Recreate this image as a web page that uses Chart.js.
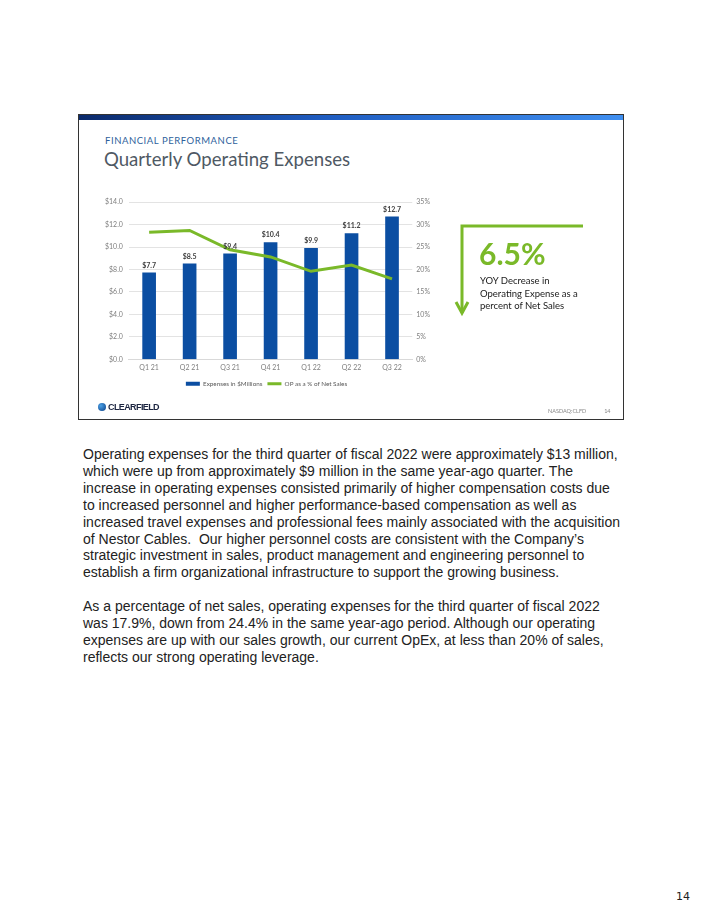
<!DOCTYPE html>
<html>
<head>
<meta charset="utf-8">
<script src="https://cdn.jsdelivr.net/npm/chart.js@4/dist/chart.umd.min.js"></script>
<style>
  html, body { margin: 0; padding: 0; background: #fff; }
  body { width: 704px; height: 911px; position: relative; overflow: hidden; }
  .slide { position: absolute; left: 78px; top: 114px; width: 546px; height: 306px; border: 1.5px solid #333; box-sizing: border-box; background: #fff; }
  .topbar { position: absolute; left: 0; top: 0; right: 0; height: 5px; background: linear-gradient(90deg, #0b2a6b 0%, #1f5cc0 45%, #3f8ff0 100%); }
  .kicker { position: absolute; left: 26px; top: 20px; font-family: Lato, sans-serif; font-size: 9.5px; letter-spacing: 0.55px; color: #2f5f9c; }
  .title { position: absolute; left: 25px; top: 33px; font-family: Lato, sans-serif; font-size: 18.6px; color: #4f5964; }
  #wrap { position: absolute; left: 20px; top: 77px; width: 335px; height: 205px; }
  .big { position: absolute; left: 400px; top: 120px; font-family: Lato, sans-serif; font-weight: bold; font-size: 30px; color: #7ab929; }
  .note { position: absolute; left: 401px; top: 160px; font-family: Lato, sans-serif; font-size: 9.5px; line-height: 12.5px; color: #1a1a1a; }
  .logo { position: absolute; left: 19px; top: 287px; font-family: "Liberation Sans", Arial, sans-serif; font-weight: bold; font-size: 9px; letter-spacing: -0.6px; color: #1c2540; }
  .logo i { display: inline-block; width: 8px; height: 8px; border-radius: 50%; background: radial-gradient(circle at 35% 35%, #4aa0e6, #0a3f86); vertical-align: -1px; margin-right: 2px; }
  .foot { position: absolute; left: 469px; top: 293px; font-family: Lato, sans-serif; font-size: 5.5px; color: #888; }
  .foot span { margin-left: 18px; }
  .para { position: absolute; left: 83px; top: 446px; font-family: "Liberation Sans", Arial, sans-serif; font-size: 14px; line-height: 16.9px; color: #222; white-space: nowrap; }
  .pnum { position: absolute; left: 676px; top: 890px; font-family: "DejaVu Sans", sans-serif; font-size: 11px; color: #222; }
</style>
</head>
<body>
<div class="slide">
  <div class="topbar"></div>
  <div class="kicker">FINANCIAL PERFORMANCE</div>
  <div class="title">Quarterly Operating Expenses</div>
  <div id="wrap"><canvas id="chartOpex"></canvas></div>
  <svg style="position:absolute;left:0;top:0" width="546" height="306">
    <path d="M504 111 H383 V198" fill="none" stroke="#7ab929" stroke-width="3"/>
    <path d="M377 187 L383 198 L389 187" fill="none" stroke="#7ab929" stroke-width="3"/>
  </svg>
  <div class="big">6.5%</div>
  <div class="note">YOY Decrease in<br>Operating Expense as a<br>percent of Net Sales</div>
  <div class="logo"><i></i>CLEARFIELD</div>
  <div class="foot">NASDAQ:CLFD<span>14</span></div>
</div>

<div class="para">Operating expenses for the third quarter of fiscal 2022 were approximately $13 million,<br>which were up from approximately $9 million in the same year-ago quarter. The<br>increase in operating expenses consisted primarily of higher compensation costs due<br>to increased personnel and higher performance-based compensation as well as<br>increased travel expenses and professional fees mainly associated with the acquisition<br>of Nestor Cables.&nbsp; Our higher personnel costs are consistent with the Company’s<br>strategic investment in sales, product management and engineering personnel to<br>establish a firm organizational infrastructure to support the growing business.<br><br>As a percentage of net sales, operating expenses for the third quarter of fiscal 2022<br>was 17.9%, down from 24.4% in the same year-ago period. Although our operating<br>expenses are up with our sales growth, our current OpEx, at less than 20% of sales,<br>reflects our strong operating leverage.</div>
<div class="pnum">14</div>

<script>
const trimestres = ['Q1 21', 'Q2 21', 'Q3 21', 'Q4 21', 'Q1 22', 'Q2 22', 'Q3 22'];
const gastosMillones = [7.7, 8.5, 9.4, 10.4, 9.9, 11.2, 12.7];
const opPorcentaje = [28.3, 28.7, 24.4, 22.8, 19.6, 21.0, 17.9];
const ticksDolares = [0, 2, 4, 6, 8, 10, 12, 14];
const ticksPorcentaje = [0, 5, 10, 15, 20, 25, 30, 35];

const azul = '#0b4ea2';
const verde = '#7ab929';
const gris = '#7f7f7f';

// etiquetas $x.x encima de cada barra
const etiquetasBarras = {
  id: 'etiquetasBarras',
  afterDatasetsDraw(chart) {
    const ctx = chart.ctx;
    const idx = chart.data.datasets.findIndex(ds => ds.type === 'bar');
    const meta = chart.getDatasetMeta(idx);
    ctx.save();
    ctx.font = 'bold 7px Lato';
    ctx.fillStyle = '#404040';
    ctx.textAlign = 'center';
    ctx.textBaseline = 'bottom';
    meta.data.forEach((bar, i) => {
      ctx.fillText('$' + gastosMillones[i].toFixed(1), bar.x, bar.y - 4);
    });
    ctx.restore();
  }
};

const ctxOpex = document.getElementById('chartOpex').getContext('2d');
new Chart(ctxOpex, {
  data: {
    labels: trimestres,
    datasets: [{
      type: 'line',
      label: 'OP as a % of Net Sales',
      data: opPorcentaje,
      yAxisID: 'y1',
      borderColor: verde,
      backgroundColor: verde,
      borderWidth: 3,
      pointRadius: 0,
      tension: 0,
      order: 0
    }, {
      type: 'bar',
      label: 'Expenses in $Millions',
      data: gastosMillones,
      yAxisID: 'y',
      backgroundColor: azul,
      barThickness: 13,
      order: 1
    }]
  },
  options: {
    responsive: true,
    maintainAspectRatio: false,
    animation: false,
    layout: { padding: { top: 2, right: 0, left: 0, bottom: 0 } },
    plugins: {
      tooltip: { enabled: false },
      legend: {
        display: true,
        position: 'bottom',
        reverse: true,
        labels: {
          color: '#595959',
          font: { family: 'Lato', size: 6.3 },
          boxHeight: 4,
          padding: 5,
          usePointStyle: true,
          pointStyleWidth: 14,
          generateLabels(chart) {
            return chart.data.datasets.map((ds, i) => ({
              text: ds.label,
              fillStyle: ds.backgroundColor,
              strokeStyle: ds.backgroundColor,
              lineWidth: ds.type === 'line' ? 3 : 0,
              pointStyle: ds.type === 'line' ? 'line' : 'rect',
              datasetIndex: i,
              fontColor: '#595959'
            }));
          }
        }
      }
    },
    scales: {
      x: {
        grid: { display: false, drawTicks: false },
        border: { color: '#d9d9d9' },
        ticks: { color: gris, font: { family: 'Lato', size: 7 }, padding: 4 }
      },
      y: {
        position: 'left',
        min: 0,
        max: 14,
        afterBuildTicks(axis) { axis.ticks = ticksDolares.map(v => ({ value: v })); },
        grid: { color: '#e3e3e3', drawTicks: false },
        border: { display: false },
        ticks: { color: gris, font: { family: 'Lato', size: 7 }, padding: 6, callback: v => '$' + v.toFixed(1) }
      },
      y1: {
        position: 'right',
        min: 0,
        max: 35,
        afterBuildTicks(axis) { axis.ticks = ticksPorcentaje.map(v => ({ value: v })); },
        grid: { display: false, drawTicks: false },
        border: { display: false },
        ticks: { color: gris, font: { family: 'Lato', size: 7 }, padding: 4, callback: v => v + '%' }
      }
    }
  },
  plugins: [etiquetasBarras]
});
</script>
</body>
</html>
